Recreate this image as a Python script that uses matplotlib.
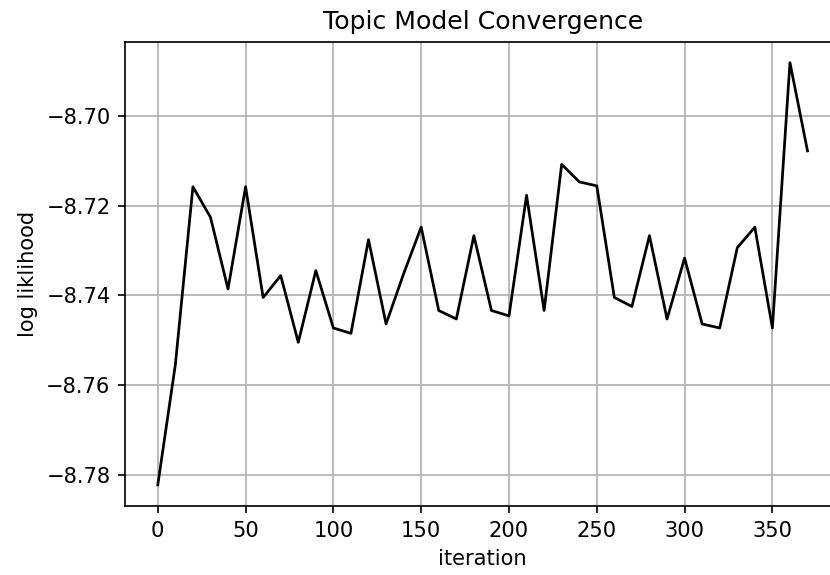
import matplotlib
matplotlib.use('Agg')
import matplotlib.pyplot as plt

# iteration number (every 10 steps) and per-word log likelihood
iterations = list(range(0, 380, 10))
log_likelihood = [
    -8.7823, -8.7555, -8.7158, -8.7226, -8.7386, -8.7158, -8.7405, -8.7356,
    -8.7505, -8.7345, -8.7473, -8.7485, -8.7276, -8.7464, -8.7352, -8.7248,
    -8.7434, -8.7453, -8.7267, -8.7434, -8.7446, -8.7177, -8.7434, -8.7108,
    -8.7147, -8.7156, -8.7405, -8.7425, -8.7267, -8.7453, -8.7317, -8.7464,
    -8.7473, -8.7294, -8.7248, -8.7473, -8.6881, -8.7078,
]

DPI = 151
fig = plt.figure(figsize=(830 / DPI, 575 / DPI), dpi=DPI)
# axes runs slightly past the right edge, as in the cropped original
ax = fig.add_axes([125.3 / 830, 69 / 575, (840 - 125.3) / 830, (506 - 41.5) / 575])

ax.plot(iterations, log_likelihood, color='k', linewidth=1.3)
ax.set_yticks([-8.78, -8.76, -8.74, -8.72, -8.70])
ax.grid(True)
ax.set_title('Topic Model Convergence')
ax.set_xlabel('iteration')
ax.set_ylabel('log liklihood')

fig.savefig('out.png', dpi=DPI)
